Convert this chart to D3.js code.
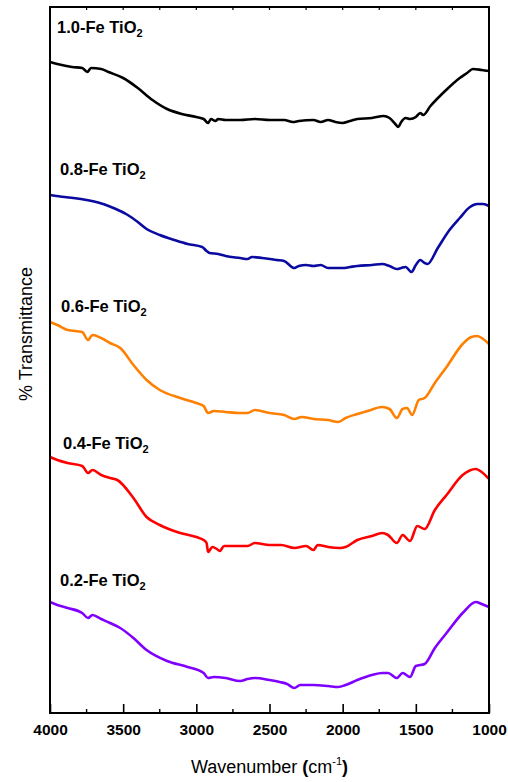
<!DOCTYPE html>
<html>
<head>
<meta charset="utf-8">
<script src="https://cdn.jsdelivr.net/npm/d3@7"></script>
<style>
  body { margin: 0; background: #fff; }
  svg { display: block; font-family: Arial, "Liberation Sans", sans-serif; }
</style>
</head>
<body>
<div id="chart"></div>
<script>
// FTIR spectra, [wavenumber cm-1, transmittance (a.u., curves stacked)]
var seriesNames = ["1.0-Fe TiO", "0.8-Fe TiO", "0.6-Fe TiO", "0.4-Fe TiO", "0.2-Fe TiO"];

var fe10 = [[4000,651],[3950,649],[3850,646],[3780,645],[3745,641],[3720,645],[3650,644],[3600,641],
  [3500,635],[3400,625],[3300,613],[3200,604],[3100,599],[3000,596],[2950,594],[2920,590],[2900,594],
  [2870,592],[2850,594],[2800,593],[2700,593],[2600,594],[2500,593],[2400,593],[2340,591],[2300,592],
  [2200,593],[2150,591],[2100,593],[2050,591],[2000,590],[1950,592],[1900,594],[1800,595],[1720,597],
  [1680,595],[1640,589],[1620,586],[1600,591],[1570,595],[1540,594],[1500,596],[1470,600],[1450,598],
  [1400,607],[1300,622],[1200,635],[1150,640],[1110,644],[1050,643],[1000,642]];

var fe08 = [[4000,518],[3900,516],[3840,515],[3750,513],[3660,510],[3600,507],[3550,504],[3480,499],
  [3400,491],[3340,484],[3250,478],[3150,473],[3060,469],[2960,466],[2930,462],[2910,460],[2850,459],
  [2800,457],[2700,455],[2650,454],[2620,456],[2550,455],[2450,453],[2400,452],[2330,445],[2300,447],
  [2250,448],[2200,447],[2150,448],[2100,445],[2050,445],[2000,445],[1950,446],[1900,447],[1800,448],
  [1730,449],[1680,447],[1630,444],[1600,445],[1570,446],[1530,441],[1500,448],[1470,453],[1440,450],
  [1420,449],[1350,465],[1270,483],[1200,495],[1130,506],[1080,509],[1040,509],[1000,507]];

var fe06 = [[4000,391],[3950,388],[3880,383],[3780,381],[3740,373],[3710,378],[3650,375],[3590,370],
  [3520,365],[3430,348],[3340,333],[3250,323],[3110,315],[3000,310],[2950,307],[2920,300],[2880,302],
  [2800,301],[2700,300],[2650,300],[2600,303],[2500,300],[2400,298],[2330,294],[2280,296],[2200,294],
  [2100,293],[2030,291],[1980,295],[1900,299],[1830,302],[1730,306],[1680,304],[1630,295],[1590,304],
  [1560,305],[1525,298],[1480,313],[1440,315],[1370,330],[1290,346],[1180,369],[1120,376],[1080,377],
  [1040,374],[1000,369]];

var fe04 = [[4000,256],[3950,253],[3880,250],[3780,247],[3740,240],[3710,243],[3650,238],[3590,235],
  [3540,233],[3430,215],[3340,196],[3250,188],[3110,180],[3000,176],[2950,173],[2930,170],[2920,161],
  [2890,166],[2860,164],[2840,162],[2810,167],[2700,167],[2650,167],[2600,170],[2500,168],[2420,168],
  [2330,165],[2250,167],[2200,163],[2170,168],[2100,166],[2020,165],[1980,166],[1900,173],[1800,177],
  [1730,180],[1690,178],[1630,170],[1590,178],[1540,172],[1490,187],[1440,184],[1370,203],[1290,218],
  [1180,238],[1090,244],[1050,241],[1000,234]];

var fe02 = [[4000,111],[3950,108],[3880,105],[3780,100],[3740,95],[3710,98],[3650,94],[3590,90],
  [3520,85],[3430,75],[3340,63],[3200,52],[3060,46],[2950,40],[2920,35],[2880,36],[2800,35],[2700,32],
  [2650,34],[2600,35],[2500,33],[2430,31],[2380,29],[2330,25],[2290,28],[2200,28],[2100,27],[2030,26],
  [1980,28],[1900,33],[1800,38],[1730,40],[1690,40],[1630,35],[1590,40],[1540,36],[1500,47],[1440,49],
  [1370,65],[1290,80],[1180,100],[1090,111],[1050,109],[1000,106]];

var xTicks = [4000, 3500, 3000, 2500, 2000, 1500, 1000];

var spectra = [fe10, fe08, fe06, fe04, fe02];
var colors = ["#000000", "#0a0aa0", "#ff8000", "#ff0000", "#8000ff"];
// label anchors (px) for each curve
var labelX = [57, 60, 61, 63, 60];
var labelY = [33, 175, 312, 449, 586];

var width = 508, height = 782;
var margin = {top: 7, right: 19, bottom: 69, left: 50};
var iw = width - margin.left - margin.right;
var ih = height - margin.top - margin.bottom;

var svg = d3.select("#chart").append("svg")
  .attr("width", width)
  .attr("height", height);

var g = svg.append("g")
  .attr("transform", "translate(" + margin.left + "," + margin.top + ")");

var x = d3.scaleLinear().domain([4000, 1000]).range([0, iw]);
var y = d3.scaleLinear().domain([0, 706]).range([ih, 0]);

var line = d3.line()
  .x(function(d){ return x(d[0]); })
  .y(function(d){ return y(d[1]); })
  .curve(d3.curveMonotoneX);

g.selectAll(".spec")
  .data(spectra)
  .enter()
  .append("path")
  .attr("class", "spec")
  .attr("d", line)
  .attr("fill", "none")
  .attr("stroke", function(d, i){ return colors[i]; })
  .attr("stroke-width", 2.6)
  .attr("stroke-linejoin", "round");

// frame
g.append("rect")
  .attr("x", 0).attr("y", 0)
  .attr("width", iw).attr("height", ih)
  .attr("fill", "none")
  .attr("stroke", "#000")
  .attr("stroke-width", 2);

// bottom axis, ticks pointing inward
var minor = d3.range(1250, 4000, 500);
var xAxis = g.append("g")
  .attr("transform", "translate(0," + ih + ")")
  .call(d3.axisBottom(x).tickValues(xTicks).tickFormat(d3.format("d"))
    .tickSizeInner(-9).tickSizeOuter(0).tickPadding(11));
xAxis.select(".domain").remove();
xAxis.selectAll(".tick line").attr("stroke-width", 1.6);
xAxis.selectAll("text")
  .attr("font-size", "15.5px")
  .attr("font-weight", "bold")
  .attr("fill", "#000");

g.selectAll(".minor")
  .data(minor)
  .enter()
  .append("line")
  .attr("x1", function(d){ return x(d); })
  .attr("x2", function(d){ return x(d); })
  .attr("y1", ih)
  .attr("y2", ih - 4)
  .attr("stroke", "#000")
  .attr("stroke-width", 1.4);

// top ticks
g.selectAll(".topt")
  .data(d3.range(1250, 4000, 250))
  .enter()
  .append("line")
  .attr("x1", function(d){ return x(d); })
  .attr("x2", function(d){ return x(d); })
  .attr("y1", 0)
  .attr("y2", 3)
  .attr("stroke", "#000")
  .attr("stroke-width", 1.2);

// series labels
seriesNames.forEach(function(name, i){
  var t = svg.append("text")
    .attr("x", labelX[i])
    .attr("y", labelY[i])
    .attr("font-size", "16.5px")
    .attr("font-weight", "bold")
    .attr("fill", "#000")
    .text(name);
  t.append("tspan")
    .attr("font-size", "11px")
    .attr("dy", 4)
    .text("2");
});

// x title
var xt = svg.append("text")
  .attr("x", margin.left + iw / 2)
  .attr("y", 773)
  .attr("text-anchor", "middle")
  .attr("font-size", "18px")
  .attr("fill", "#000");
xt.append("tspan").text("Wavenumber ");
xt.append("tspan").attr("font-weight", "bold").text("(");
xt.append("tspan").text("cm");
xt.append("tspan").attr("font-size", "11px").attr("dy", -8).text("-1");
xt.append("tspan").attr("font-weight", "bold").attr("dy", 8).text(")");

// y title
svg.append("text")
  .attr("transform", "translate(32," + 334 + ") rotate(-90)")
  .attr("text-anchor", "middle")
  .attr("font-size", "18px")
  .attr("fill", "#000")
  .text("% Transmittance");
</script>
</body>
</html>
